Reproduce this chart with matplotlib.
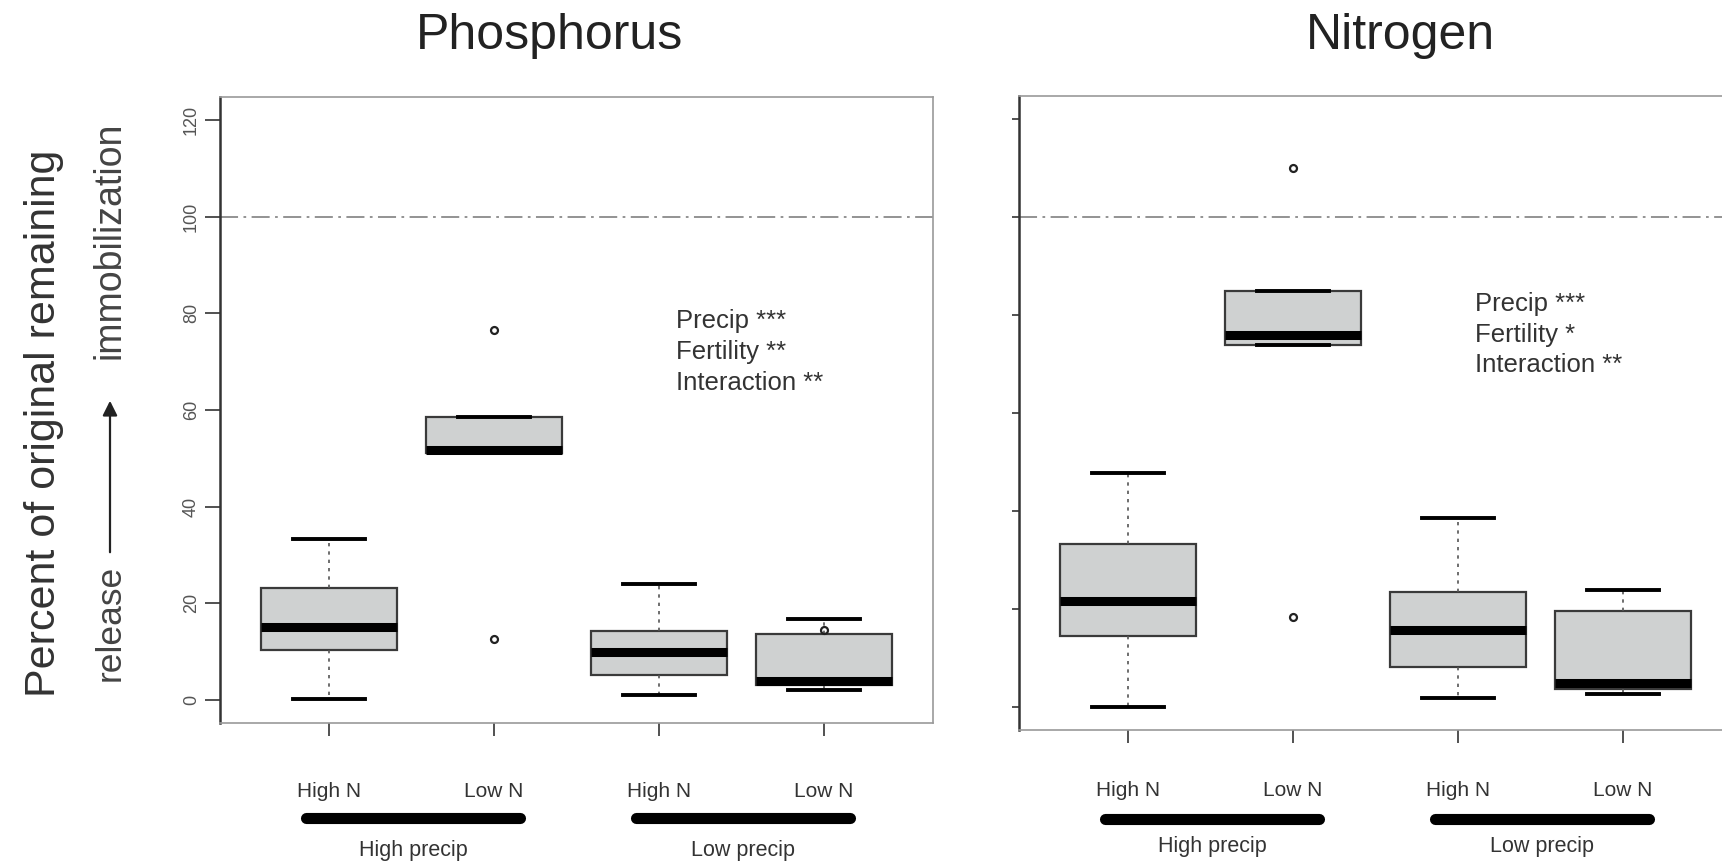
import matplotlib
matplotlib.use('Agg')
import matplotlib.pyplot as plt

plt.rcParams['font.family'] = ['Liberation Sans', 'DejaVu Sans']

# box statistics
positions = [1, 2, 3, 4]
groups = ['High N', 'Low N', 'High N', 'Low N']
precip = ['High precip', 'Low precip']

# Phosphorus
p_whislo = [0.2, 51.0, 0.9, 2.1]
p_q1 = [10.3, 51.2, 5.2, 3.0]
p_med = [15.0, 51.7, 10.0, 3.8]
p_q3 = [23.2, 58.6, 14.3, 13.6]
p_whishi = [33.2, 58.6, 23.9, 16.8]
p_fliers = [[], [76.5, 12.6], [], [14.4]]
p_stars = 'Precip ***\nFertility **\nInteraction **'

# Nitrogen
n_whislo = [0.0, 73.8, 1.8, 2.6]
n_q1 = [14.5, 73.9, 8.0, 3.5]
n_med = [21.5, 76.0, 15.6, 4.8]
n_q3 = [33.3, 85.0, 23.5, 19.6]
n_whishi = [47.8, 85.0, 38.5, 23.8]
n_fliers = [[], [110.0, 18.3], [], []]
n_stars = 'Precip ***\nFertility *\nInteraction **'


def make_stats(lo, q1, med, q3, hi, fl):
    st = []
    for i in range(len(lo)):
        st.append(dict(whislo=lo[i], q1=q1[i], med=med[i], q3=q3[i],
                       whishi=hi[i], fliers=fl[i]))
    return st


def draw_panel(ax, stats, stars, star_y, labels_y):
    ax.axhline(100, color='#8a8a8a', lw=1.3, ls=(0, (10, 3, 1.5, 3)), zorder=1)
    ax.bxp(stats, positions=positions, widths=0.82, capwidths=0.44,
           patch_artist=True, showfliers=True,
           boxprops=dict(facecolor='#cfd1d1', edgecolor='#3a3a3a', lw=1.6),
           medianprops=dict(color='black', lw=6.5, solid_capstyle='butt'),
           whiskerprops=dict(color='#555555', lw=1.2, ls=(0, (2, 3))),
           capprops=dict(color='black', lw=2.8),
           flierprops=dict(marker='o', markersize=5, mfc='none',
                           mec='#222222', mew=1.6))
    ax.set_xlim(0.34, 4.66)
    ax.set_ylim(-4.8, 124.8)
    ax.set_xticks(positions)
    ax.set_xticklabels([])
    ax.tick_params(axis='x', length=9, width=1.2, color='#333333')
    ax.tick_params(axis='y', length=11, width=1.2, color='#333333')
    for s in ['top', 'right', 'bottom']:
        ax.spines[s].set_color('#9a9a9a')
        ax.spines[s].set_linewidth(1.2)
        ax.spines[s].set_linestyle((0, (2, 1)))
    ax.spines['left'].set_color('#333333')
    ax.spines['left'].set_linewidth(1.8)

    ax.text(3.1, star_y, stars, fontsize=18.5, color='#333333',
            va='center', ha='left', linespacing=1.35)

    tr = ax.get_xaxis_transform()
    for x, g in zip(positions, groups):
        ax.text(x, labels_y[0], g, transform=tr, ha='center', va='center',
                fontsize=15, color='#333333')
    for k, name in enumerate(precip):
        x0 = positions[2 * k] - 0.14
        x1 = positions[2 * k + 1] + 0.16
        ax.plot([x0, x1], [labels_y[1], labels_y[1]], transform=tr,
                color='black', lw=8, solid_capstyle='round', clip_on=False)
        ax.text((x0 + x1) / 2, labels_y[2], name, transform=tr, ha='center',
                va='center', fontsize=15.5, color='#333333')


fig = plt.figure(figsize=(17.22, 8.61), dpi=100)

ax1 = fig.add_axes([220 / 1722, 1 - 723 / 861, 713 / 1722, 626 / 861])
draw_panel(ax1, make_stats(p_whislo, p_q1, p_med, p_q3, p_whishi, p_fliers),
           p_stars, 72, (-0.11, -0.152, -0.203))
ax1.set_yticks([0, 20, 40, 60, 80, 100, 120])
ax1.set_yticklabels(['0', '20', '40', '60', '80', '100', '120'],
                    rotation=90, va='center', fontsize=13, color='#555555')

ax2 = fig.add_axes([1019 / 1722, 1 - 730 / 861, 713 / 1722, 634 / 861])
draw_panel(ax2, make_stats(n_whislo, n_q1, n_med, n_q3, n_whishi, n_fliers),
           n_stars, 76, (-0.095, -0.141, -0.183))
ax2.set_yticks([0, 20, 40, 60, 80, 100, 120])
ax2.set_yticklabels([])
ax2.tick_params(axis='y', length=5)

# titles and y labels
fig.text(549 / 1722, 1 - 36 / 861, 'Phosphorus', fontsize=36,
         ha='center', va='center', color='#222222')
fig.text(1400 / 1722, 1 - 36 / 861, 'Nitrogen', fontsize=36,
         ha='center', va='center', color='#222222')
fig.text(44 / 1722, 1 - 423 / 861, 'Percent of original remaining',
         fontsize=31, rotation=90, ha='center', va='center', color='#333333')
fig.text(110 / 1722, 1 - 623 / 861, 'release', fontsize=25.5, rotation=90,
         ha='center', va='center', color='#444444')
fig.text(110 / 1722, 1 - 240 / 861, 'immobilization', fontsize=27,
         rotation=90, ha='center', va='center', color='#444444')
fig.add_artist(matplotlib.patches.FancyArrowPatch(
    (110 / 1722, 1 - 555 / 861), (110 / 1722, 1 - 398 / 861),
    transform=fig.transFigure, arrowstyle='-|>', mutation_scale=22,
    color='#222222', lw=1.6))

fig.savefig('out.png', dpi=100)
